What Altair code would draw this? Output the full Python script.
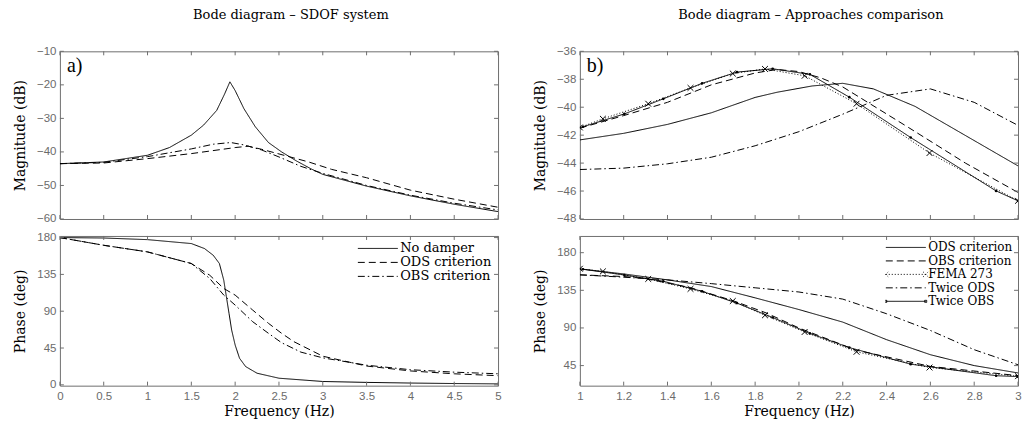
import altair as alt
import pandas as pd

# ---------------- Panel a) : SDOF system ----------------
A_F_NO_MAG = [0, 0.5, 1.0, 1.25, 1.5, 1.64, 1.79, 1.88, 1.94, 2.0, 2.1, 2.23, 2.38, 2.53, 2.7, 2.87, 3.0, 3.5, 4.0, 4.5, 5.0]
A_NO_MAG = [-43.5, -43.0, -41.0, -38.7, -35.0, -32.0, -27.6, -22.7, -19.1, -21.7, -27.1, -32.5, -37.2, -40.0, -42.7, -45.1, -46.7, -50.2, -53.1, -55.6, -57.8]

A_F_ODS_MAG = [0, 0.5, 1.0, 1.5, 2.0, 2.15, 2.3, 2.5, 2.84, 3.1, 3.5, 4.0, 4.5, 5.0]
A_ODS_MAG = [-43.5, -43.3, -42.0, -40.5, -38.7, -38.3, -39.2, -40.6, -43.0, -45.2, -47.7, -51.4, -54.1, -56.5]

A_F_OBS_MAG = [0, 0.5, 1.0, 1.5, 1.75, 1.95, 2.1, 2.3, 2.5, 2.75, 3.0, 3.5, 4.0, 4.5, 5.0]
A_OBS_MAG = [-43.5, -43.1, -41.4, -39.1, -37.7, -37.2, -37.9, -39.4, -41.5, -44.3, -46.4, -50.0, -52.9, -55.3, -57.3]

A_F_NO_PH = [0, 0.5, 1.0, 1.5, 1.65, 1.75, 1.82, 1.87, 1.90, 1.93, 1.96, 2.0, 2.05, 2.12, 2.25, 2.5, 3.0, 3.5, 4.0, 4.5, 5.0]
A_NO_PH = [180, 179.5, 177.5, 172.7, 166.6, 158.4, 148.3, 128, 107.6, 87.4, 67, 48.7, 32.5, 22.3, 14.2, 8.1, 4.1, 3.0, 2.2, 1.6, 1.2]

A_F_ODS_PH = [0, 0.5, 1.0, 1.5, 1.71, 1.87, 2.0, 2.2, 2.38, 2.53, 2.67, 3.0, 3.5, 4.0, 4.5, 5.0]
A_ODS_PH = [180, 170.6, 162.5, 148.3, 134, 117.8, 109.7, 91.4, 75.2, 63, 52.8, 35, 23, 17, 13.5, 11.2]

A_F_OBS_PH = [0, 0.5, 1.0, 1.5, 1.71, 1.87, 2.0, 2.2, 2.38, 2.53, 2.75, 3.0, 3.5, 4.0, 4.5, 5.0]
A_OBS_PH = [180, 170.6, 162.5, 148.3, 130, 109.7, 97.5, 77.2, 63, 51.5, 40, 33, 24, 18.5, 15.5, 13.5]

A_SERIES = ["No damper", "ODS criterion", "OBS criterion"]
A_X_TICKS = [0, 0.5, 1, 1.5, 2, 2.5, 3, 3.5, 4, 4.5, 5]
A_MAG_TICKS = [-60, -50, -40, -30, -20, -10]
A_PH_TICKS = [0, 45, 90, 135, 180]

# ---------------- Panel b) : approaches comparison ----------------
B_F_ODS_MAG = [1.0, 1.2, 1.4, 1.6, 1.8, 1.9, 2.06, 2.2, 2.34, 2.53, 3.0]
B_ODS_MAG = [-42.34, -41.87, -41.23, -40.4, -39.3, -38.93, -38.48, -38.29, -38.69, -39.94, -44.2]
B_F_ODS_PH = [1.0, 1.2, 1.4, 1.6, 1.8, 2.0, 2.2, 2.4, 2.6, 2.8, 3.0]
B_ODS_PH = [160.6, 154.6, 147.5, 139.5, 126.0, 112, 97, 76, 58, 45, 36.2]

B_F_OBS_MAG = [1.0, 1.2, 1.4, 1.6, 1.8, 1.9, 2.0, 2.1, 2.2, 2.5, 2.76, 3.0]
B_OBS_MAG = [-41.5, -40.6, -39.65, -38.4, -37.55, -37.3, -37.45, -37.9, -38.55, -41.45, -44.0, -46.1]
B_F_OBS_PH = [1.0, 1.2, 1.3, 1.5, 1.7, 1.85, 2.0, 2.26, 2.6, 3.0]
B_OBS_PH = [153.5, 151.5, 149, 138.5, 122.5, 108, 90, 63.5, 44, 33]

B_F_FEMA = [1.0, 1.105, 1.312, 1.505, 1.698, 1.845, 2.026, 2.263, 2.596, 3.0]
B_FEMA_MAG = [-41.45, -40.83, -39.75, -38.62, -37.59, -37.26, -37.75, -39.75, -43.28, -46.7]
B_FEMA_PH = [160.8, 157.6, 148.6, 136.7, 122.2, 105.2, 85.2, 61.5, 42.7, 32.3]

B_F_TODS = [1.0, 1.2, 1.4, 1.6, 1.8, 2.0, 2.2, 2.4, 2.6, 2.8, 3.0]
B_TODS_MAG = [-44.46, -44.36, -44.05, -43.58, -42.76, -41.75, -40.5, -39.15, -38.69, -39.65, -41.3]
B_TODS_PH = [153.5, 150.7, 147.5, 143, 138, 133, 124.5, 107, 87, 64, 46]

B_F_TOBS = [1.014, 1.203, 1.381, 1.558, 1.717, 1.88, 2.05, 2.23, 2.51, 2.90, 3.0]
B_TOBS_MAG = [-41.4, -40.48, -39.4, -38.29, -37.49, -37.25, -37.65, -39.28, -42.17, -45.99, -46.7]
B_TOBS_PH = [160.2, 153.3, 145.8, 133.8, 119.7, 102.5, 83.5, 66.5, 46.7, 32.9, 31.8]

B_SERIES = ["ODS criterion", "OBS criterion", "FEMA 273", "Twice ODS", "Twice OBS"]
B_X_TICKS = [1, 1.2, 1.4, 1.6, 1.8, 2, 2.2, 2.4, 2.6, 2.8, 3]
B_MAG_TICKS = [-48, -46, -44, -42, -40, -38, -36]
B_PH_TICKS = [45, 90, 135, 180]

TITLE_A = "Bode diagram – SDOF system"
TITLE_B = "Bode diagram – Approaches comparison"

# ---------------- styling ----------------
W = 439
H_MAG = 168
H_PH = 150
TL = 4
FRAME = "#6e6e6e"
SERIF = "DejaVu Serif"
SANS = "Liberation Sans"
LABEL_COLOR = "#6b6b6b"

DASH_A = [[1, 0], [7, 4], [7, 3, 1.5, 3]]
DASH_B = [[1, 0], [7, 4], [1, 2], [7, 3, 1.5, 3], [1, 0]]

X_PATH = "M-1,-1L1,1M-1,1L1,-1"
SYM_EXPR = (
    "datum.value === 'FEMA 273' ? "
    "'M-1,0L1,0M-1.12,-0.12L-0.88,0.12M-1.12,0.12L-0.88,-0.12M0.88,-0.12L1.12,0.12M0.88,0.12L1.12,-0.12' : "
    "(datum.value === 'Twice OBS' ? "
    "'M-1,0L1,0M-1.05,-0.05L-0.95,-0.05L-0.95,0.05L-1.05,0.05ZM0.95,-0.05L1.05,-0.05L1.05,0.05L0.95,0.05Z' : 'stroke')"
)


def frame(items):
    rows = []
    for name, fs, vs in items:
        for f, v in zip(fs, vs):
            rows.append({"f": f, "v": v, "series": name})
    return pd.DataFrame(rows)


def tick_layers(xs, ys, xax, yax, xticks, yticks, h):
    tx = pd.DataFrame({"t": xticks})
    ty = pd.DataFrame({"t": yticks})
    top = alt.Chart(tx).mark_rule(color=FRAME, strokeWidth=1).encode(
        x=alt.X("t:Q", scale=xs, axis=xax), y=alt.value(0), y2=alt.value(TL))
    bot = alt.Chart(tx).mark_rule(color=FRAME, strokeWidth=1).encode(
        x=alt.X("t:Q", scale=xs, axis=xax), y=alt.value(h - TL), y2=alt.value(h))
    lef = alt.Chart(ty).mark_rule(color=FRAME, strokeWidth=1).encode(
        y=alt.Y("t:Q", scale=ys, axis=yax), x=alt.value(0), x2=alt.value(TL))
    rig = alt.Chart(ty).mark_rule(color=FRAME, strokeWidth=1).encode(
        y=alt.Y("t:Q", scale=ys, axis=yax), x=alt.value(W - TL), x2=alt.value(W))
    return [top, bot, lef, rig]


def panel(df, xdom, ydom, xticks, yticks, h, ytitle, show_x, dash_dom, dash_rng, legend,
          markers=None, label=None, title=None):
    xs = alt.Scale(domain=xdom, nice=False, zero=False)
    ys = alt.Scale(domain=ydom, nice=False, zero=False)
    common_ax = dict(domain=False, ticks=False, tickSize=0, grid=False,
                     labelFont=SANS, labelFontSize=11.5, labelColor=LABEL_COLOR,
                     titleFont=SERIF, titleFontSize=14, titleFontWeight="normal", titleColor="black")
    xax = alt.Axis(values=xticks, format=".1~f", title="Frequency (Hz)", labelFlush=False,
                   labelPadding=5, titlePadding=2, **common_ax) if show_x else None
    yax = alt.Axis(values=yticks, title=ytitle, format="d", labelPadding=4, titlePadding=9, **common_ax)
    lines = alt.Chart(df).mark_line(clip=True, strokeWidth=1, color="black").encode(
        x=alt.X("f:Q", scale=xs, axis=xax),
        y=alt.Y("v:Q", scale=ys, axis=yax),
        strokeDash=alt.StrokeDash("series:N", scale=alt.Scale(domain=dash_dom, range=dash_rng), legend=legend),
    )
    layers = [lines]
    if markers is not None:
        fema_df, tobs_df = markers
        layers.append(alt.Chart(fema_df).mark_point(shape=X_PATH, size=34, filled=False, strokeWidth=1,
                                                   color="black", opacity=1, clip=True).encode(
            x=alt.X("f:Q", scale=xs, axis=xax), y=alt.Y("v:Q", scale=ys, axis=yax)))
        layers.append(alt.Chart(tobs_df).mark_circle(size=7, color="black", opacity=1, clip=True).encode(
            x=alt.X("f:Q", scale=xs, axis=xax), y=alt.Y("v:Q", scale=ys, axis=yax)))
    layers += tick_layers(xs, ys, xax, yax, xticks, yticks, h)
    if label is not None:
        layers.append(alt.Chart(pd.DataFrame({"t": [label]})).mark_text(
            font="Liberation Serif", fontSize=20, align="left", baseline="alphabetic", color="black").encode(
            text="t:N", x=alt.value(7), y=alt.value(21)))
    ch = alt.layer(*layers).properties(width=W, height=h)
    if title is not None:
        ch = ch.properties(title=alt.TitleParams(title, anchor="middle", frame="group", offset=23, dx=12,
                                                  font=SERIF, fontSize=13, fontWeight="normal", color="black"))
    return ch


# data frames
a_mag = frame([("No damper", A_F_NO_MAG, A_NO_MAG), ("ODS criterion", A_F_ODS_MAG, A_ODS_MAG),
               ("OBS criterion", A_F_OBS_MAG, A_OBS_MAG)])
a_ph = frame([("No damper", A_F_NO_PH, A_NO_PH), ("ODS criterion", A_F_ODS_PH, A_ODS_PH),
              ("OBS criterion", A_F_OBS_PH, A_OBS_PH)])
b_mag = frame([("ODS criterion", B_F_ODS_MAG, B_ODS_MAG), ("OBS criterion", B_F_OBS_MAG, B_OBS_MAG),
               ("FEMA 273", B_F_FEMA, B_FEMA_MAG), ("Twice ODS", B_F_TODS, B_TODS_MAG),
               ("Twice OBS", B_F_TOBS, B_TOBS_MAG)])
b_ph = frame([("ODS criterion", B_F_ODS_PH, B_ODS_PH), ("OBS criterion", B_F_OBS_PH, B_OBS_PH),
              ("FEMA 273", B_F_FEMA, B_FEMA_PH), ("Twice ODS", B_F_TODS, B_TODS_PH),
              ("Twice OBS", B_F_TOBS, B_TOBS_PH)])
b_mag_fema = frame([("FEMA 273", B_F_FEMA, B_FEMA_MAG)])
b_mag_tobs = frame([("Twice OBS", B_F_TOBS, B_TOBS_MAG)])
b_ph_fema = frame([("FEMA 273", B_F_FEMA, B_FEMA_PH)])
b_ph_tobs = frame([("Twice OBS", B_F_TOBS, B_TOBS_PH)])

legend_common = dict(title=None, orient="top-right", symbolSize=1600, symbolStrokeWidth=1,
                     symbolStrokeColor="black", labelFont=SERIF, labelColor="black",
                     labelOffset=2, padding=1, fillColor="white", labelLimit=0,
                     clipHeight=13)
leg_a = alt.Legend(symbolType="stroke", labelFontSize=13, offset=5, rowPadding=0, **legend_common)
leg_b = alt.Legend(symbolType={"expr": SYM_EXPR}, labelFontSize=12, offset=4, rowPadding=0.5,
                   **legend_common)

mag_a = panel(a_mag, [0, 5], [-60, -10], A_X_TICKS, A_MAG_TICKS, H_MAG, "Magnitude (dB)", False,
              A_SERIES, DASH_A, None, label="a)", title=TITLE_A)
ph_a = panel(a_ph, [0, 5], [-1, 182], A_X_TICKS, A_PH_TICKS, H_PH, "Phase (deg)", True,
             A_SERIES, DASH_A, leg_a)
mag_b = panel(b_mag, [1, 3], [-48, -36], B_X_TICKS, B_MAG_TICKS, H_MAG, "Magnitude (dB)", False,
              B_SERIES, DASH_B, None, markers=(b_mag_fema, b_mag_tobs), label="b)", title=TITLE_B)
ph_b = panel(b_ph, [1, 3], [21, 200], B_X_TICKS, B_PH_TICKS, H_PH, "Phase (deg)", True,
             B_SERIES, DASH_B, leg_b, markers=(b_ph_fema, b_ph_tobs))

col_a = alt.vconcat(mag_a, ph_a, spacing=17, bounds="flush").resolve_scale(strokeDash="independent")
col_b = alt.vconcat(mag_b, ph_b, spacing=17, bounds="flush").resolve_scale(strokeDash="independent")

chart = alt.hconcat(col_a, col_b, spacing=30).resolve_scale(strokeDash="independent").properties(
    padding={"left": 4, "top": 0, "right": 0, "bottom": 0}
).configure_view(stroke=FRAME, strokeWidth=1)

chart.save("out.html", embed_options={"renderer": "svg", "actions": False})
